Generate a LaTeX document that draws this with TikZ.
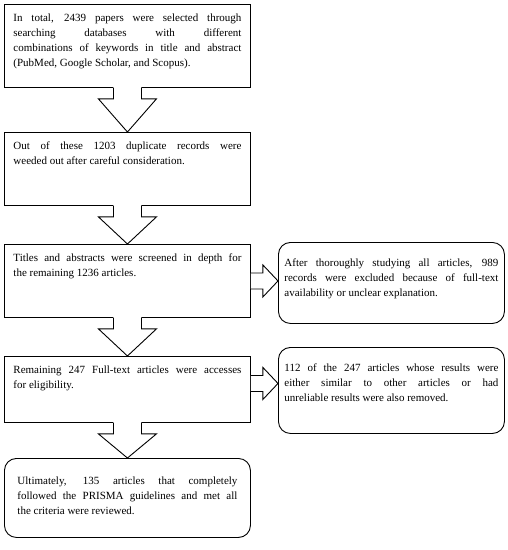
\documentclass[tikz,border=0pt]{standalone}
\usepackage{fontspec}
\setmainfont{Liberation Serif}
\usetikzlibrary{calc}
\hyphenpenalty=10000
\exhyphenpenalty=10000

\begin{document}
\begin{tikzpicture}[x=1pt,y=-1pt,
  stage/.style={draw,line width=0.9pt,anchor=north west,inner xsep=9pt,inner ysep=9pt,
    font=\fontsize{11}{15.3}\selectfont},
  result/.style={stage,rounded corners=12pt}]

\useasboundingbox (0,0) rectangle (508,550);

% define the screening boxes
  \node[stage]    (b1) at (4,4)
{\parbox[t][65pt][t]{228pt}{In total, 2439 papers were selected through\linebreak searching databases with different\linebreak combinations of keywords in title and abstract\linebreak (PubMed, Google Scholar, and Scopus).}};
  \node[stage]    (b2) at (4,132)
{\parbox[t][55pt][t]{228pt}{Out of these 1203 duplicate records were\linebreak weeded out after careful consideration.}};
  \node[stage]    (b3) at (4,244)
{\parbox[t][55pt][t]{228pt}{Titles and abstracts were screened in depth for\linebreak the remaining 1236 articles.}};
  \node[stage]    (b4) at (4,356)
{\parbox[t][48pt][t]{228pt}{Remaining 247 Full-text articles were accesses\linebreak for eligibility.}};
  \node[result, inner xsep=13pt, inner ysep=18pt]   (b5) at (4,458)
{\parbox[t][43pt][t]{220pt}{Ultimately, 135 articles that completely\linebreak followed the PRISMA guidelines and met all\linebreak the criteria were reviewed.}};

% define the excluded boxes
  \node[result, inner xsep=6pt, inner ysep=16pt]   (rA) at (278,242)
{\parbox[t][49pt][t]{214pt}{After thoroughly studying all articles, 989\linebreak records were excluded because of full-text\linebreak availability or unclear explanation.}};
  \node[result, inner xsep=6pt, inner ysep=16pt]   (rB) at (278,347)
{\parbox[t][54pt][t]{214pt}{112 of the 247 articles whose results were\linebreak either similar to other articles or had\linebreak unreliable results were also removed.}};

% define the block arrows
  \foreach \a/\b in {b1/b2,b2/b3,b3/b4,b4/b5}{
    \fill[white] ($(\a.south)+(-14,-1)$) -- ($(\a.south)+(-14,11)$) -- ($(\a.south)+(-29,11)$)
      -- (\b.north) -- ($(\a.south)+(29,11)$) -- ($(\a.south)+(14,11)$) -- ($(\a.south)+(14,-1)$) -- cycle;
    \draw[line width=0.9pt] ($(\a.south)+(-14,0)$) -- ($(\a.south)+(-14,11)$) -- ($(\a.south)+(-29,11)$)
      -- (\b.north) -- ($(\a.south)+(29,11)$) -- ($(\a.south)+(14,11)$) -- ($(\a.south)+(14,0)$);
  }

  \coordinate (r1) at (b3.east);
  \coordinate (r2) at ([yshift=6pt]b4.east);
  \foreach \a/\b in {r1/rA,r2/rB}{
    \draw[line width=0.9pt,fill=white] ($(\a)+(0,-8)$) -- ($(\a)+(12,-8)$) -- ($(\a)+(12,-16)$)
      -- (\b.west |- \a) -- ($(\a)+(12,16)$) -- ($(\a)+(12,8)$) -- ($(\a)+(0,8)$);
  }

\end{tikzpicture}
\end{document}
